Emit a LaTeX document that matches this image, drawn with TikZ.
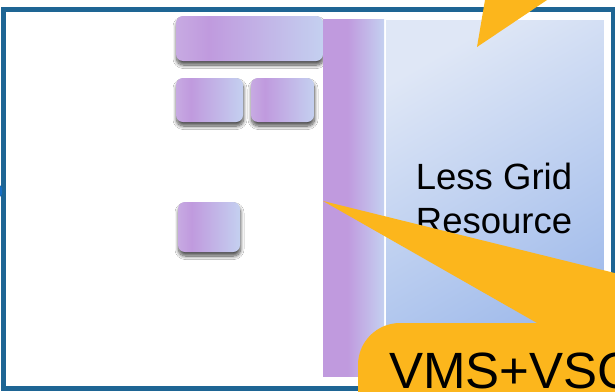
\documentclass[tikz,border=0pt]{standalone}
\usepackage{fontspec}
\setmainfont{Liberation Sans}
\usetikzlibrary{shadows.blur}

\definecolor{frameblue}{RGB}{30,101,148}
\definecolor{markblue}{RGB}{22,110,196}
\definecolor{calloutorange}{RGB}{252,182,28}
\definecolor{lilacedge}{RGB}{199,170,226}
\definecolor{lilac}{RGB}{192,154,222}
\definecolor{lavender}{RGB}{196,208,240}
\definecolor{panellight}{RGB}{223,231,246}
\definecolor{paneldark}{RGB}{156,184,234}

% horizontal fades: the path spans 25bp..75bp of the shading
\pgfdeclarehorizontalshading{pillshade}{100bp}{%
  color(0bp)=(lilacedge); color(25bp)=(lilacedge); color(36bp)=(lilac);
  color(75bp)=(lavender); color(100bp)=(lavender)}
\pgfdeclarehorizontalshading{stripshade}{100bp}{%
  color(0bp)=(lilac); color(25bp)=(lilac); color(45bp)=(lilac);
  color(75bp)=(lavender); color(100bp)=(lavender)}

\tikzset{
  pill/.style={rectangle, rounded corners=7pt, draw=none, inner sep=0pt,
    shade, shading=pillshade,
    blur shadow={shadow xshift=0.5pt, shadow yshift=-4pt,
      shadow blur radius=3.5pt, shadow blur steps=12, shadow opacity=70}},
  label36/.style={inner sep=0pt, align=center, font=\fontsize{36.5}{44}\selectfont},
  label51/.style={inner sep=0pt, font=\fontsize{51}{60}\selectfont},
}

\begin{document}
\begin{tikzpicture}[x=1pt, y=-1pt]
  \useasboundingbox (0,0) rectangle (615,391);
  \clip (0,0) rectangle (615,391);
  \fill[white] (0,0) rectangle (615,391);

  % outer frame
  \draw[frameblue, line width=4.5pt] (3.5,9.5) rectangle (613.5,388.5);
  \fill[markblue] (0,185) -- (2,188) -- (2,194) -- (0,197) -- cycle;

  % resource panel
  \node[draw=white, line width=1pt, inner sep=0pt, minimum width=218.5pt,
        minimum height=357pt, top color=panellight, bottom color=paneldark,
        shading angle=30] (panel) at (494.75,197.5) {};

  % small task blocks
  \node[pill, minimum width=147pt, minimum height=45pt] (wide) at (249.5,38.5) {};
  \node[pill, minimum width=67pt, minimum height=44pt] (blockA) at (209.5,100) {};
  \node[pill, minimum width=63pt, minimum height=44pt] (blockB) at (282.5,100) {};
  \node[pill, minimum width=62pt, minimum height=50pt] (blockC) at (209,227) {};

  % tall strip
  \node[draw=none, inner sep=0pt, minimum width=61pt, minimum height=357pt,
        shade, shading=stripshade] (strip) at (353.5,197.5) {};

  \node[label36] (less) at (494,198) {Less Grid\\Resource};

  % callout pointers and body
  \coordinate (tipTop) at (477,47);
  \fill[calloutorange] (tipTop) -- (488.4,-20) -- (576.8,-20) -- cycle;

  \coordinate (tipLow) at (323,201);
  \fill[calloutorange] (tipLow) -- (720,299) -- (720,330) -- (537,323) -- cycle;
  \fill[calloutorange, rounded corners=42pt] (358,323) rectangle (760,470);

  \node[label51, anchor=base west] (vms) at (389,388.5) {VMS+VSC};
\end{tikzpicture}
\end{document}
